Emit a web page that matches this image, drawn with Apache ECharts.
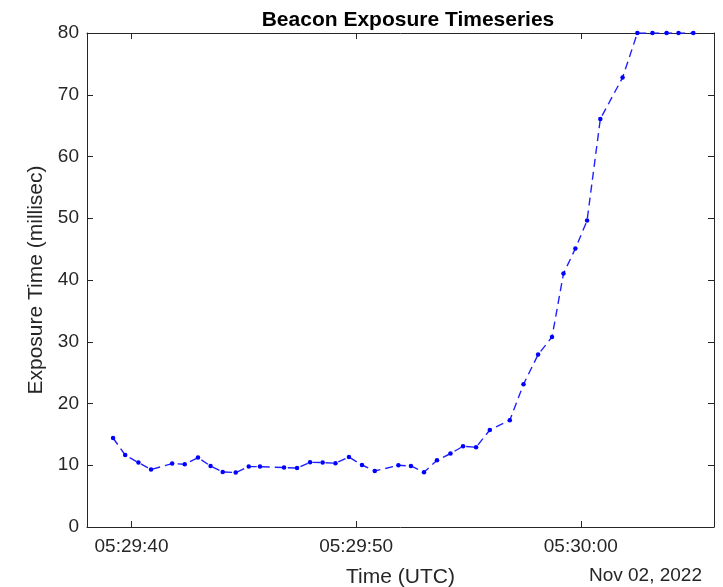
<!DOCTYPE html>
<html>
<head>
<meta charset="utf-8">
<script src="https://cdn.jsdelivr.net/npm/echarts@6/dist/echarts.min.js"></script>
<style>
  html, body { margin: 0; padding: 0; background: #fff; }
  #chart { width: 723px; height: 587px; }
</style>
</head>
<body>
<div id="chart"></div>
<script>
// Sample times, in seconds after 05:29:00 UTC
const timeSec = [
  39.18, 39.72, 40.31, 40.87, 41.81, 42.37, 42.96, 43.52, 44.06, 44.64,
  45.22, 45.72, 46.79, 47.37, 47.95, 48.51, 49.08, 49.68, 50.26, 50.83,
  51.88, 52.44, 53.02, 53.60, 54.20, 54.76, 55.34, 55.95, 56.84, 57.45,
  58.10, 58.72, 59.23, 59.76, 60.28, 60.87, 61.86, 62.52, 63.19, 63.82,
  64.35, 65.01
];
// Exposure time per sample (milliseconds)
const exposureMs = [
  14.41, 11.66, 10.43, 9.30, 10.27, 10.15, 11.24, 9.88, 8.91, 8.81,
  9.78, 9.78, 9.62, 9.55, 10.48, 10.43, 10.32, 11.34, 10.04, 9.07,
  9.99, 9.88, 8.86, 10.80, 11.89, 13.07, 12.91, 15.71, 17.28, 23.11,
  27.92, 30.77, 41.04, 45.09, 49.62, 66.07, 72.78, 80, 80, 80,
  80, 80
];
// Time axis ticks (seconds after 05:29:00) and their labels
const xTickValues = [40, 50, 60];
const xTickLabels = ['05:29:40', '05:29:50', '05:30:00'];
const xRange = [38.02, 65.93];
const yRange = [0, 80];

const AX = '#262626';
const FONT = '"Liberation Sans", Arial, Helvetica, sans-serif';

const chart = echarts.init(document.getElementById('chart'), null, { renderer: 'canvas' });

const points = timeSec.map((t, i) => [t, exposureMs[i]]);

const baseX = {
  type: 'value',
  min: xRange[0],
  max: xRange[1],
  axisLine: { show: true, onZero: false, lineStyle: { color: AX, width: 1 } },
  axisTick: { show: true, inside: true, length: 6, customValues: xTickValues, lineStyle: { color: AX } },
  splitLine: { show: false }
};
const baseY = {
  type: 'value',
  min: yRange[0],
  max: yRange[1],
  interval: 10,
  axisLine: { show: true, onZero: false, lineStyle: { color: AX, width: 1 } },
  axisTick: { show: true, inside: true, length: 6, lineStyle: { color: AX } },
  splitLine: { show: false }
};

chart.setOption({
  animation: false,
  backgroundColor: '#ffffff',
  title: {
    text: 'Beacon Exposure Timeseries',
    left: 403,
    top: 5,
    textAlign: 'center',
    textStyle: { fontFamily: FONT, fontSize: 21, fontWeight: 'bold', color: '#000' }
  },
  grid: { left: 87, right: 9, top: 33, bottom: 60, containLabel: false, outerBoundsMode: 'none' },
  xAxis: [
    Object.assign({}, baseX, {
      position: 'bottom',
      name: 'Time (UTC)',
      nameLocation: 'middle',
      nameGap: 40,
      nameTextStyle: { fontFamily: FONT, fontSize: 21, color: AX },
      axisLabel: {
        show: true,
        customValues: xTickValues,
        margin: 10,
        fontFamily: FONT,
        fontSize: 19,
        color: AX,
        formatter: v => xTickLabels[xTickValues.indexOf(v)] || ''
      }
    }),
    Object.assign({}, baseX, {
      position: 'top',
      axisLabel: { show: false }
    })
  ],
  yAxis: [
    Object.assign({}, baseY, {
      position: 'left',
      name: 'Exposure Time (millisec)',
      nameLocation: 'middle',
      nameGap: 40,
      nameRotate: 90,
      nameTextStyle: { fontFamily: FONT, fontSize: 21, color: AX },
      axisLabel: { show: true, margin: 8, fontFamily: FONT, fontSize: 19, color: AX }
    }),
    Object.assign({}, baseY, {
      position: 'right',
      axisLabel: { show: false }
    })
  ],
  graphic: [{
    type: 'text',
    right: 21,
    top: 566,
    style: { text: 'Nov 02, 2022', fontFamily: FONT, fontSize: 19, fill: AX }
  }],
  series: [{
    type: 'line',
    xAxisIndex: 0,
    yAxisIndex: 0,
    data: points,
    symbol: 'circle',
    symbolSize: 4.5,
    showSymbol: true,
    itemStyle: { color: '#0000ff' },
    lineStyle: { color: '#2020ff', width: 1.4, type: [8, 5] }
  }]
});
</script>
</body>
</html>
